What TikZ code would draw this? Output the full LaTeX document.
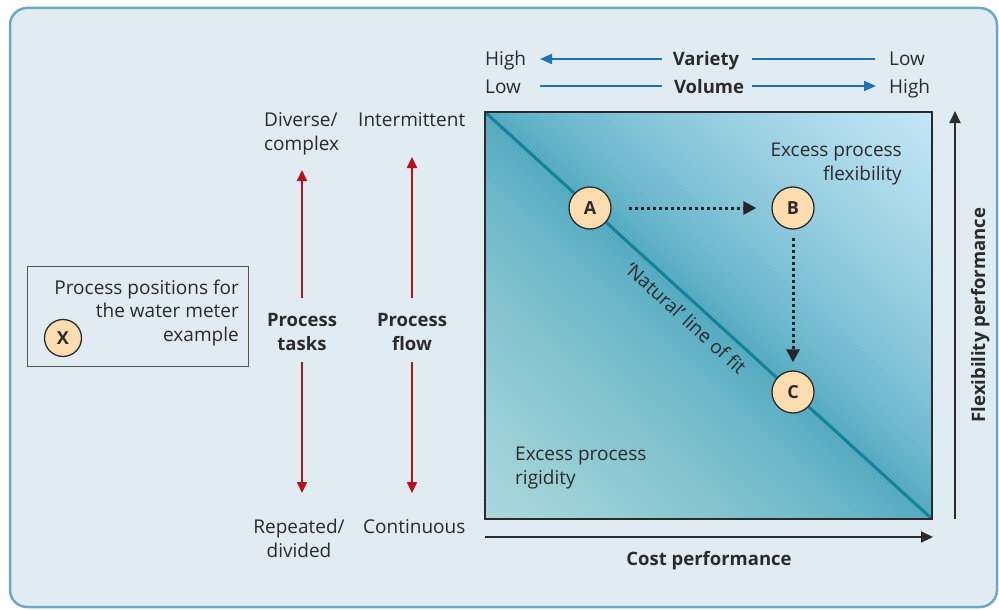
\documentclass[tikz,border=0pt]{standalone}
\usepackage{fontspec}
\setmainfont{Open Sans}
\usetikzlibrary{arrows.meta}
\definecolor{bg}{HTML}{E0EBF2}
\definecolor{frame}{HTML}{6FA8C4}
\definecolor{txt}{HTML}{2B2B2B}
\definecolor{varblue}{HTML}{1A72B8}
\definecolor{redarr}{HTML}{B5121B}
\definecolor{teal}{HTML}{16819A}
\definecolor{peach}{HTML}{FDDDB0}
\definecolor{lightblue}{HTML}{C4E7F6}
\definecolor{midteal}{HTML}{4EA8BF}
\definecolor{lightteal}{HTML}{AAD8DA}
\tikzset{
  lbl/.style={text=txt, inner sep=0pt, align=left},
  bl/.style={text=txt, inner sep=0pt, font=\fontsize{18.5}{23.5}\selectfont\bfseries},
  blarrow/.style={draw=varblue, line width=2pt},
  redarrow/.style={draw=redarr, line width=2pt, -{Triangle[length=11pt,width=10pt]}},
  axisarrow/.style={draw=txt, line width=2pt, -{Triangle[length=12pt,width=11pt]}},
  pt/.style={circle, draw=txt, fill=peach, line width=1.3pt, minimum size=42pt, inner sep=0pt, font=\fontsize{18}{20}\selectfont\bfseries, text=txt},
  dotarrow/.style={draw=black!85, line width=3pt, dash pattern=on 3pt off 3pt, -{Triangle[length=13pt,width=13pt]}}
}
\begin{document}
\begin{tikzpicture}[x=1pt,y=-1pt, font=\fontsize{19}{23.5}\selectfont]
\useasboundingbox (0,0) rectangle (999,610);
% frame
\draw[draw=frame, fill=bg, line width=2.5pt, rounded corners=17pt] (10,8) rectangle (997,607);
% plot square with diagonal gradient
\begin{scope}
\clip (485,112) rectangle (932,519);
\foreach \s in {0,5,...,445} {
  \pgfmathtruncatemacro{\p}{100*pow(\s/447,0.75)}
  \fill[lightblue!\p!midteal] (485+\s-0.5,112) -- (932+\s-0.5,519) -- (932+\s+5.5,519) -- (485+\s+5.5,112) -- cycle;
  \fill[lightteal!\p!midteal] (485-\s+0.5,112) -- (932-\s+0.5,519) -- (932-\s-5.5,519) -- (485-\s-5.5,112) -- cycle;
}
\foreach \k in {0,4,...,860} {
  \draw[white, opacity=0.13, line width=0.6pt] (485+\k-420,112) -- (485+\k,532);
}
\end{scope}
\coordinate (tl) at (485,112);
\coordinate (br) at (932,519);
\draw[teal, line width=3pt] (tl) -- (br);
\draw[draw=txt, line width=2pt] (485,112) rectangle (932,519);

% top variety/volume
\node[lbl, anchor=base west] (hi1) at (485,66) {High};
\node[bl, anchor=base] (var) at (706,66) {Variety};
\node[lbl, anchor=base west] (lo1) at (889,66) {Low};
\node[lbl, anchor=base west] (lo2) at (485,93) {Low};
\node[bl, anchor=base] (vol) at (709,93) {Volume};
\node[lbl, anchor=base west] (hi2) at (889,93) {High};
\coordinate (v1a) at (662,59); \coordinate (v1b) at (540,59);
\coordinate (v2a) at (752,59); \coordinate (v2b) at (875,59);
\coordinate (w1a) at (540,86); \coordinate (w1b) at (662,86);
\coordinate (w2a) at (752,86); \coordinate (w2b) at (876,86);
\draw[blarrow, -{Triangle[length=12pt,width=10pt]}] (v1a) -- (v1b);
\draw[blarrow] (v2a) -- (v2b);
\draw[blarrow] (w1a) -- (w1b);
\draw[blarrow, -{Triangle[length=12pt,width=10pt]}] (w2a) -- (w2b);

% axes
\coordinate (xa) at (485,537); \coordinate (xb) at (933,537);
\draw[axisarrow] (xa) -- (xb);
\node[bl, anchor=base] (cost) at (709,565) {Cost performance};
\coordinate (ya) at (955,519); \coordinate (yb) at (955,111);
\draw[axisarrow] (ya) -- (yb);
\node[bl, rotate=90, anchor=base] (flex) at (985,315) {Flexibility performance};

% regions
\node[lbl, align=right, anchor=base east] (exf) at (902,180) {Excess process\\flexibility};
\node[lbl, align=left, anchor=base west] (exr) at (515,484) {Excess process\\rigidity};

% points
\node[pt] (A) at (590,208) {A};
\node[pt] (B) at (793,208) {B};
\node[pt] (C) at (793,392) {C};
\draw[dotarrow] ([xshift=17pt]A.east) -- ([xshift=-15pt]B.west);
\draw[dotarrow] ([yshift=-8pt]B.south) -- ([yshift=8pt]C.north);
\node[lbl, rotate=-42.3] (nat) at (686,318) {‘Natural’ line of fit};

% left labels
\node[lbl, anchor=base west] (div) at (264,150) {Diverse/\\complex};
\node[lbl, anchor=base west] (int) at (358,126) {Intermittent};
\node[bl, align=center, anchor=base] (pt1) at (302,350) {Process\\tasks};
\node[bl, align=center, anchor=base] (pf1) at (412,350) {Process\\flow};
\coordinate (r1a) at (302,298); \coordinate (r1b) at (302,170);
\coordinate (r1c) at (302,362); \coordinate (r1d) at (302,493);
\coordinate (r2a) at (412,298); \coordinate (r2b) at (412,157);
\coordinate (r2c) at (412,362); \coordinate (r2d) at (412,493);
\draw[redarrow] (r1a) -- (r1b);
\draw[redarrow] (r1c) -- (r1d);
\draw[redarrow] (r2a) -- (r2b);
\draw[redarrow] (r2c) -- (r2d);
\node[lbl, align=center, anchor=base] (rep) at (299,557) {Repeated/\\divided};
\node[lbl, anchor=base west] (cont) at (363,533) {Continuous};

% legend
\node[draw=txt!80, line width=1pt, minimum width=221pt, minimum height=100pt, inner sep=0pt] (leg) at (137.5,316) {};
\node[lbl, align=right, anchor=base east] (legt) at (239,341) {Process positions for\\the water meter\\example};
\node[pt, minimum size=37pt] (X) at (63,338) {X};
\end{tikzpicture}
\end{document}
